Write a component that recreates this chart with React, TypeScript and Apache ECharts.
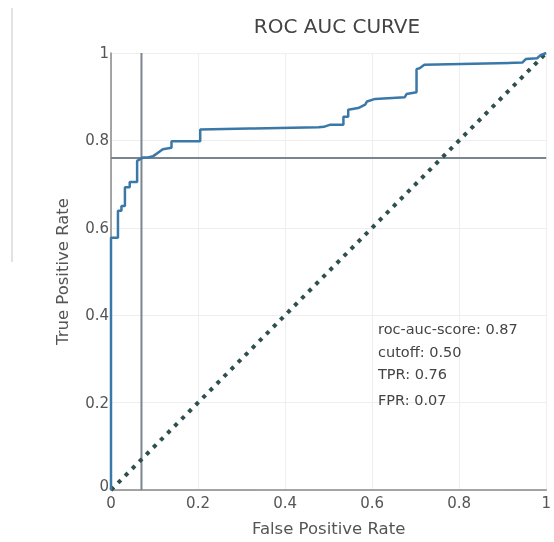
import React, { useEffect, useRef } from "react";
import * as echarts from "echarts";

const fpr = [0, 0, 0.016, 0.016, 0.024, 0.024, 0.032, 0.032, 0.043, 0.043, 0.06, 0.06, 0.074, 0.085, 0.097, 0.108, 0.119, 0.139, 0.139, 0.205, 0.205, 0.317, 0.477, 0.489, 0.504, 0.534, 0.534, 0.545, 0.545, 0.568, 0.584, 0.588, 0.607, 0.675, 0.679, 0.702, 0.702, 0.709, 0.72, 0.945, 0.953, 0.979, 0.987, 1];
const tpr = [0, 0.577, 0.577, 0.639, 0.639, 0.65, 0.65, 0.693, 0.693, 0.705, 0.705, 0.753, 0.761, 0.761, 0.764, 0.772, 0.78, 0.783, 0.798, 0.798, 0.825, 0.827, 0.83, 0.831, 0.836, 0.836, 0.854, 0.854, 0.87, 0.874, 0.882, 0.889, 0.895, 0.899, 0.906, 0.91, 0.963, 0.965, 0.973, 0.978, 0.986, 0.988, 0.995, 1];
const diagonal = [[0, 0], [1, 1]];
const cutoffFpr = 0.07;
const cutoffTpr = 0.76;
const annotations = ["roc-auc-score: 0.87", "cutoff: 0.50", "TPR: 0.76", "FPR: 0.07"];
const annotationY = [329, 352, 374, 400];

export default function App() {
  const ref = useRef<HTMLDivElement>(null);
  useEffect(() => {
    if (!ref.current) return;
    const chart = echarts.init(ref.current, null, { renderer: "svg" });
    const font = "'DejaVu Sans', 'Open Sans', sans-serif";
    const txt = "#555";
    chart.setOption({
      animation: false,
      textStyle: { fontFamily: font },
      title: {
        text: "ROC AUC CURVE",
        left: 332,
        top: 11,
        textAlign: "center",
        textStyle: { fontFamily: font, fontSize: 20, fontWeight: "normal", color: "#444" },
      },
      grid: { left: 111, right: 5, top: 53, bottom: 50, containLabel: false },
      xAxis: {
        type: "value",
        min: 0,
        max: 1,
        interval: 0.2,
        name: "False Positive Rate",
        nameLocation: "middle",
        nameGap: 30,
        nameTextStyle: { fontFamily: font, fontSize: 16.5, color: txt },
        axisLine: { show: true, lineStyle: { color: "#888", width: 1.5 } },
        axisTick: { show: false },
        axisLabel: { color: txt, fontSize: 15, margin: 5, fontFamily: font },
        splitLine: { show: true, lineStyle: { color: "#eeeeee", width: 1 } },
      },
      yAxis: {
        type: "value",
        min: 0,
        max: 1,
        interval: 0.2,
        name: "True Positive Rate",
        nameLocation: "middle",
        nameGap: 40,
        nameTextStyle: { fontFamily: font, fontSize: 16.5, color: txt },
        axisLine: { show: true, lineStyle: { color: "#888", width: 1.5 } },
        axisTick: { show: false },
        axisLabel: {
          color: txt,
          fontSize: 15,
          margin: 2,
          fontFamily: font,
          formatter: (v: number) => (v === 0 ? "{z|0}" : String(v)),
          rich: { z: { color: txt, fontSize: 15, fontFamily: font, padding: [0, 0, 8, 0] } },
        },
        splitLine: { show: true, lineStyle: { color: "#eeeeee", width: 1 } },
      },
      graphic: [
        {
          type: "line",
          z: 100,
          shape: { x1: 12, y1: 8, x2: 12, y2: 262 },
          style: { stroke: "#e2e2e2", lineWidth: 2 },
        },
        ...annotations.map((t, i) => ({
          type: "text",
          z: 100,
          x: 378,
          y: annotationY[i],
          style: { text: t, fill: "#444", fontSize: 14.5, fontFamily: font, verticalAlign: "middle", align: "left" },
        })),
      ],
      series: [
        {
          type: "line",
          data: diagonal,
          symbol: "none",
          lineStyle: { color: "#2f4f4f", width: 4, type: [4, 6] },
          z: 3,
        },
        {
          type: "line",
          data: [[cutoffFpr, 0], [cutoffFpr, 1]],
          symbol: "none",
          lineStyle: { color: "#7a8590", width: 2 },
          z: 2,
        },
        {
          type: "line",
          data: [[0, cutoffTpr], [1, cutoffTpr]],
          symbol: "none",
          lineStyle: { color: "#7a8590", width: 2 },
          z: 2,
        },
        {
          type: "line",
          data: fpr.map((x, i) => [x, tpr[i]]),
          symbol: "none",
          lineStyle: { color: "#3a78a8", width: 2.5 },
          z: 4,
        },
      ],
    });
    return () => chart.dispose();
  }, []);
  return <div ref={ref} style={{ position: "fixed", left: 0, top: 0, width: 554, height: 542 }} />;
}
